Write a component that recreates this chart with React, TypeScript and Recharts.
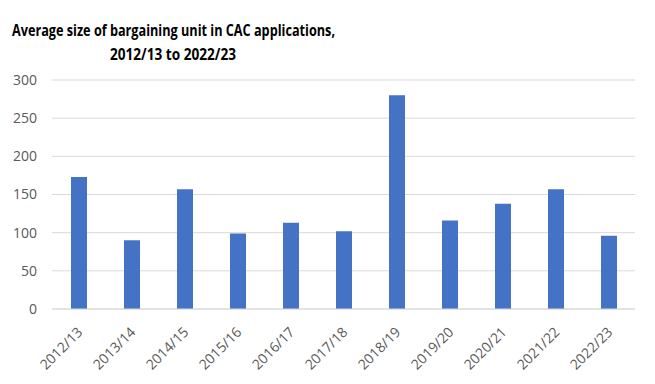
import React from "react";
import { BarChart, Bar, XAxis, YAxis, CartesianGrid } from "recharts";

const years = [
  "2012/13", "2013/14", "2014/15", "2015/16", "2016/17", "2017/18",
  "2018/19", "2019/20", "2020/21", "2021/22", "2022/23",
];
const avgSize = [173, 90, 157, 99, 113, 102, 280, 116, 138, 157, 96];
const yTicks = [0, 50, 100, 150, 200, 250, 300];

const data = years.map((year, i) => ({ year, value: avgSize[i] }));

const font = "'Open Sans', sans-serif";

function XTick({ x, y, payload }: any) {
  return (
    <text
      transform={`translate(${x + 5},${y + 24}) rotate(-45)`}
      textAnchor="end"
      fontFamily={font}
      fontSize={14}
      fill="#595959"
    >
      {payload.value}
    </text>
  );
}

export default function App() {
  return (
    <div
      style={{
        position: "absolute",
        left: 0,
        top: 0,
        width: 655,
        height: 384,
        background: "#fff",
      }}
    >
      <svg
        width={655}
        height={80}
        style={{ position: "absolute", left: 0, top: 0 }}
      >
        <text
          x={12}
          y={36}
          textLength={323}
          lengthAdjust="spacingAndGlyphs"
          fontFamily={font}
          fontWeight={700}
          fontSize={16}
          fill="#000"
        >
          Average size of bargaining unit in CAC applications,
        </text>
        <text
          x={110}
          y={60}
          textLength={126}
          lengthAdjust="spacingAndGlyphs"
          fontFamily={font}
          fontWeight={700}
          fontSize={16}
          fill="#000"
        >
          2012/13 to 2022/23
        </text>
      </svg>
      <BarChart
        width={655}
        height={384}
        data={data}
        margin={{ top: 80, right: 20, left: 0, bottom: 0 }}
      >
        <CartesianGrid vertical={false} stroke="#d9d9d9" strokeWidth={1} />
        <XAxis
          dataKey="year"
          height={75}
          interval={0}
          tickLine={false}
          tickSize={0}
          tickMargin={0}
          axisLine={{ stroke: "#d9d9d9" }}
          tick={<XTick />}
        />
        <YAxis
          width={52}
          domain={[0, 300]}
          ticks={yTicks}
          axisLine={false}
          tickLine={false}
          tickSize={0}
          tickMargin={15}
          tick={{ fontFamily: font, fontSize: 14, fill: "#595959" }}
        />
        <Bar dataKey="value" fill="#4472c4" barSize={16} isAnimationActive={false} />
      </BarChart>
    </div>
  );
}
